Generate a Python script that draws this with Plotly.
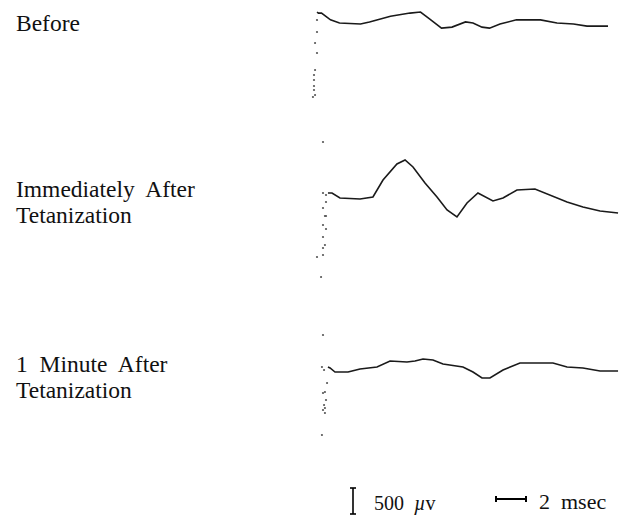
import plotly.graph_objects as go

# ---------------- data (time in msec, voltage in microvolts) ----------------
before_t = [0, 0.1, 0.3, 0.9, 1.5, 2.9, 3.5, 4.9, 6.2, 6.9, 7.5, 8.3, 9.0, 9.9, 10.4,
            11.0, 11.5, 12.2, 13.3, 14.9, 16.0, 17.1, 18.0, 19.4]
before_v = [230, 210, 210, 80, 20, 0, 40, 150, 210, 230, 100, -80, -60, 40, 20,
            -60, -80, 0, 80, 80, 20, 0, -40, -40]
before_art_t = [0, 0, -0.13, 0, -0.13, -0.2, -0.2, -0.2, -0.2, -0.13, -0.27]
before_art_v = [77, -154, -365, -558, -885, -981, -1077, -1192, -1269, -1365, -1404]

immed_t = [0.73, 1.0, 1.53, 2.87, 3.73, 4.4, 5.33, 5.87, 6.4, 7.2, 8.0, 8.67, 9.33, 10.0,
           10.73, 11.73, 12.4, 13.33, 14.53, 15.53, 16.67, 17.73, 18.87, 20.07]
immed_v = [115, 115, 19, 0, 38, 365, 673, 750, 615, 308, 38, -212, -346, -77,
           115, -38, 19, 173, 192, 77, -58, -154, -231, -269]
immed_art_t = [0.4, 0.4, 0.6, 0.6, 0.4, 0.6, 0.53, 0.4, 0.6, 0.4, 0.53, 0.4, 0.4, 0.0, 0.27]
immed_art_v = [1096, 115, 77, -58, -173, -327, -327, -500, -577, -731, -885, -942, -1077, -1115, -1500]

oneMin_t = [0.73, 0.87, 1.2, 2.07, 2.87, 4.0, 4.87, 6.0, 6.53, 7.07, 7.73, 8.4, 9.73, 10.4,
            11.0, 11.53, 12.4, 13.53, 15.73, 16.67, 17.73, 18.87, 20.07]
oneMin_v = [96, 77, 0, 0, 58, 96, 212, 192, 212, 250, 231, 154, 96, 0,
            -115, -115, 38, 173, 173, 96, 77, 19, 19]
oneMin_art_t = [0.4, 0.33, 0.47, 0.67, 0.53, 0.4, 0.6, 0.47, 0.53, 0.4, 0.53, 0.33]
oneMin_art_v = [712, 96, 38, -212, -385, -404, -538, -635, -692, -731, -788, -1212]

labels = [["Before"], ["Immediately  After", "Tetanization"], ["1  Minute  After", "Tetanization"]]
scale_uv = 500
scale_ms = 2
scale_uv_label = "500  <i>µ</i>v"
scale_ms_label = "2  msec"

# ---------------- layout geometry ----------------
W, H = 624, 516
PX_PER_MS = 15.0
PX_PER_UV = 26.0 / 500.0
X0_PX = 317  # pixel of t = 0


def ypos(py):
    """plot-coordinate (uV units) of a pixel row"""
    return -py / PX_PER_UV


def tpos(px):
    return (px - X0_PX) / PX_PER_MS


base_rows = [24, 199, 372]
label_rows = [23, 189, 364]   # center of first text line
LINE_GAP = 26

series = [
    (before_t, before_v, before_art_t, before_art_v),
    (immed_t, immed_v, immed_art_t, immed_art_v),
    (oneMin_t, oneMin_v, oneMin_art_t, oneMin_art_v),
]

fig = go.Figure()
for (t, v, at, av), row in zip(series, base_rows):
    off = ypos(row)
    fig.add_trace(go.Scatter(x=t, y=[off + x for x in v], mode="lines",
                             line=dict(color="#1a1a1a", width=1.6), hoverinfo="skip",
                             showlegend=False))
    fig.add_trace(go.Scatter(x=at, y=[off + x for x in av], mode="markers",
                             marker=dict(color="#555555", size=2.2), hoverinfo="skip",
                             showlegend=False))

# vertical scale bar (500 uV)
vb_t = tpos(353)
vb_bot = ypos(514)
vb_top = vb_bot + scale_uv
serif = 3 / PX_PER_MS
fig.add_trace(go.Scatter(x=[vb_t, vb_t, None, vb_t - serif, vb_t + serif, None, vb_t - serif, vb_t + serif],
                         y=[vb_bot, vb_top, None, vb_top, vb_top, None, vb_bot, vb_bot],
                         mode="lines", line=dict(color="black", width=1.6),
                         hoverinfo="skip", showlegend=False))
# horizontal scale bar (2 msec)
hb_l = tpos(496)
hb_r = hb_l + scale_ms
hb_y = ypos(499)
tick = 3 / PX_PER_UV
fig.add_trace(go.Scatter(x=[hb_l, hb_r, None, hb_l, hb_l, None, hb_r, hb_r],
                         y=[hb_y, hb_y, None, hb_y - tick, hb_y + tick, None, hb_y - tick, hb_y + tick],
                         mode="lines", line=dict(color="black", width=2),
                         hoverinfo="skip", showlegend=False))

font = dict(family="Liberation Serif, Times New Roman, serif", size=23.5, color="#111111")
annotations = []
for lines, row in zip(labels, label_rows):
    for k, text in enumerate(lines):
        annotations.append(dict(x=14 / W, y=1 - (row + k * LINE_GAP) / H, xref="paper", yref="paper",
                                text=text, showarrow=False, xanchor="left", yanchor="middle",
                                align="left", font=font))
annotations.append(dict(x=372 / W, y=1 - 503 / H, xref="paper", yref="paper",
                        text=scale_uv_label, showarrow=False, xanchor="left", yanchor="middle",
                        font=dict(font, size=20)))
annotations.append(dict(x=537 / W, y=1 - 501 / H, xref="paper", yref="paper",
                        text=scale_ms_label, showarrow=False, xanchor="left", yanchor="middle",
                        font=dict(font, size=22)))

fig.update_layout(
    width=W, height=H,
    margin=dict(l=0, r=0, t=0, b=0),
    paper_bgcolor="white", plot_bgcolor="white",
    xaxis=dict(range=[tpos(0), tpos(W)], visible=False, fixedrange=True),
    yaxis=dict(range=[ypos(H), ypos(0)], visible=False, fixedrange=True),
    annotations=annotations,
)

fig.write_html("out.html")
